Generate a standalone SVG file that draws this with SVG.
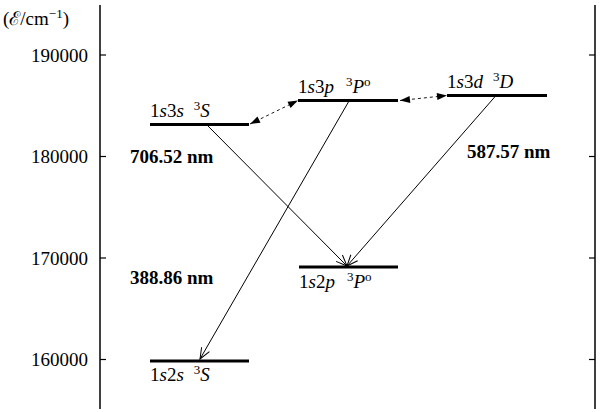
<svg xmlns="http://www.w3.org/2000/svg" width="600" height="412" viewBox="0 0 600 412" font-family="Liberation Serif, serif" font-size="19">
<style>
text{fill:#000}
.b{font-weight:bold}
.i{font-style:italic}
.axis{stroke:#000;stroke-width:1.5;fill:none}
.tick{stroke:#000;stroke-width:1.2}
.lvl{stroke:#000;stroke-width:3}
.tr{stroke:#000;stroke-width:1;fill:none;marker-end:url(#open)}
.ds{stroke:#000;stroke-width:0.9;fill:none;stroke-dasharray:3 3;marker-start:url(#fill);marker-end:url(#fill)}
</style>
<defs>
<marker id="open" viewBox="-12 -6 13 12" refX="0" refY="0" markerWidth="13" markerHeight="12" markerUnits="userSpaceOnUse" orient="auto">
<path d="M-11,-4.5 L0,0 L-11,4.5" fill="none" stroke="#000" stroke-width="1"/>
</marker>
<marker id="fill" viewBox="-11 -5 12 10" refX="0" refY="0" markerWidth="12" markerHeight="10" markerUnits="userSpaceOnUse" orient="auto-start-reverse">
<path d="M-10,-3.5 L0,0 L-10,3.5 Z" fill="#000"/>
</marker>
</defs>
<g id="axes">
<line class="axis" x1="100" y1="5" x2="100" y2="409"/>
<line class="axis" x1="595" y1="5" x2="595" y2="409"/>
<line class="tick" x1="100" y1="55" x2="106" y2="55"/>
<line class="tick" x1="100" y1="156.5" x2="106" y2="156.5"/>
<line class="tick" x1="100" y1="258" x2="106" y2="258"/>
<line class="tick" x1="100" y1="359.5" x2="106" y2="359.5"/>
<line class="tick" x1="589" y1="55" x2="595" y2="55"/>
<line class="tick" x1="589" y1="156.5" x2="595" y2="156.5"/>
<line class="tick" x1="589" y1="258" x2="595" y2="258"/>
<line class="tick" x1="589" y1="359.5" x2="595" y2="359.5"/>
<text x="3" y="25">(ℰ/cm<tspan font-size="13" dy="-7">−1</tspan><tspan dy="7">)</tspan></text>
<text x="88" y="61.5" text-anchor="end">190000</text>
<text x="88" y="163" text-anchor="end">180000</text>
<text x="88" y="264.5" text-anchor="end">170000</text>
<text x="88" y="366" text-anchor="end">160000</text>
</g>
<g id="connectors">
<line class="tr" x1="207" y1="125" x2="347" y2="266"/>
<line class="tr" x1="349" y1="101" x2="200" y2="359"/>
<line class="tr" x1="496" y1="95.5" x2="347" y2="266"/>
<line class="ds" x1="250" y1="124" x2="298" y2="100.5"/>
<line class="ds" x1="400" y1="100.5" x2="447" y2="95.5"/>
<text class="b" x="130" y="163">706.52 nm</text>
<text class="b" x="130" y="284">388.86 nm</text>
<text class="b" x="467" y="158">587.57 nm</text>
</g>
<g id="n1s3s">
<line class="lvl" x1="150" y1="124.5" x2="249" y2="124.5"/>
<text x="150" y="117">1<tspan class="i">s</tspan>3<tspan class="i">s</tspan><tspan dx="10" font-size="13" dy="-7">3</tspan><tspan class="i" dy="7">S</tspan></text>
</g>
<g id="n1s3p">
<line class="lvl" x1="298" y1="100.5" x2="398" y2="100.5"/>
<text x="298" y="93">1<tspan class="i">s</tspan>3<tspan class="i">p</tspan><tspan dx="12" font-size="13" dy="-7">3</tspan><tspan class="i" dy="7">P</tspan><tspan font-size="13" dy="-7">o</tspan></text>
</g>
<g id="n1s3d">
<line class="lvl" x1="447" y1="95.5" x2="547" y2="95.5"/>
<text x="447" y="88">1<tspan class="i">s</tspan>3<tspan class="i">d</tspan><tspan dx="10" font-size="13" dy="-7">3</tspan><tspan class="i" dy="7">D</tspan></text>
</g>
<g id="n1s2p">
<line class="lvl" x1="299" y1="267" x2="398" y2="267"/>
<text x="299" y="288">1<tspan class="i">s</tspan>2<tspan class="i">p</tspan><tspan dx="12" font-size="13" dy="-7">3</tspan><tspan class="i" dy="7">P</tspan><tspan font-size="13" dy="-7">o</tspan></text>
</g>
<g id="n1s2s">
<line class="lvl" x1="150" y1="361" x2="249" y2="361"/>
<text x="150" y="381">1<tspan class="i">s</tspan>2<tspan class="i">s</tspan><tspan dx="10" font-size="13" dy="-7">3</tspan><tspan class="i" dy="7">S</tspan></text>
</g>
</svg>
